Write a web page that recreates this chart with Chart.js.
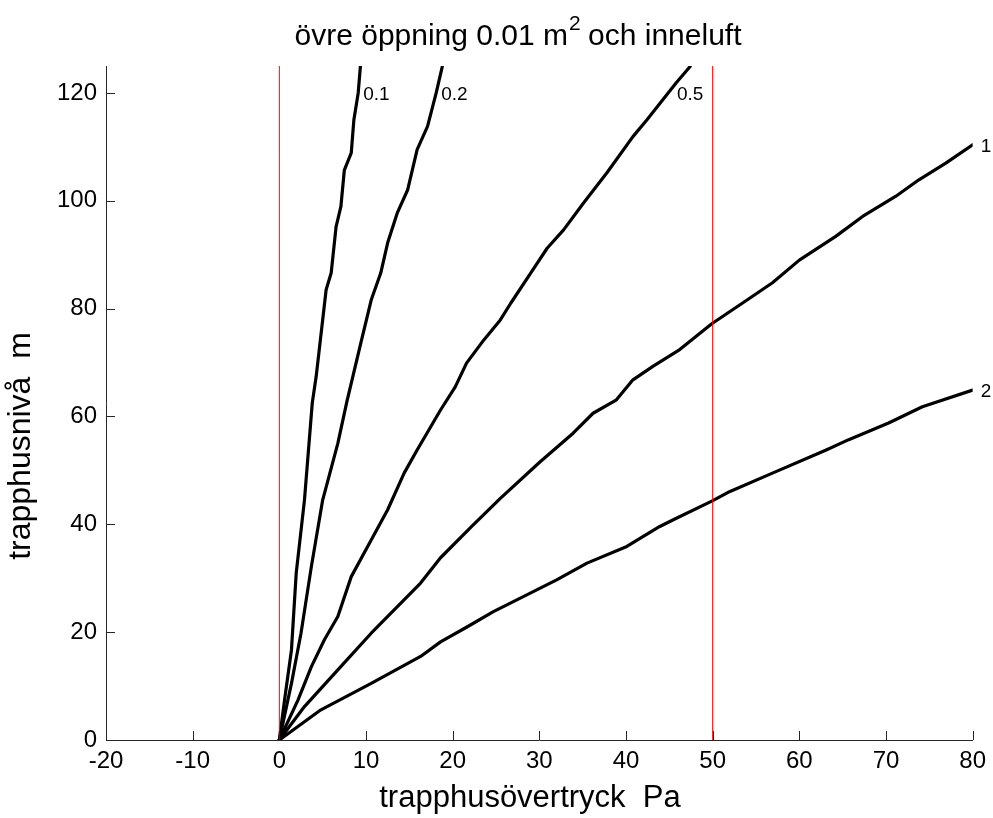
<!DOCTYPE html>
<html lang="sv">
  <head>
    <meta charset="UTF-8" />
    <script src="https://cdn.jsdelivr.net/npm/chart.js@4.4.0/dist/chart.umd.min.js"></script>
    <title>övre öppning 0.01 m2 och inneluft</title>
    <style>
      html, body { margin: 0; padding: 0; background: #fff; }
      #wrap { width: 993px; height: 818px; }
    </style>
  </head>
  <body>
    <div id="wrap"><canvas id="myChart" width="993" height="818"></canvas></div>

    <script>
      // curves: pressure (Pa) vs stairwell level (m), one per opening factor
      const p01 = [0, 0.6, 1.4, 1.95, 2.9, 3.8, 4.25, 5.4, 5.98, 6.55, 7.1, 7.5, 8.3, 8.6, 9.1, 9.35];
      const h01 = [0, 7.4, 16.7, 31, 44.5, 62.5, 67.4, 83.5, 86.6, 95.2, 98.9, 105.7, 108.9, 115, 120, 124.9];

      const p02 = [0, 1.4, 2.5, 3.7, 5.0, 6.75, 7.8, 9.4, 10.6, 11.7, 12.5, 13.6, 14.8, 15.9, 17.1, 18.1, 18.8];
      const h02 = [0, 10.5, 19.8, 32.2, 44.5, 55, 62.8, 73.6, 81.6, 86.6, 92.2, 97.7, 102, 109.5, 113.8, 120, 124.9];

      const p05 = [0, 2.15, 3.7, 5.2, 6.75, 8.3, 10.6, 12.5, 14.4, 15.9, 18.6, 20.3, 21.6, 23.6, 25.5, 26.7, 29.0, 30.9, 32.8, 35.1, 37.8, 40.8, 42.4, 45.8, 47.4];
      const h05 = [0, 7.4, 13.6, 18.6, 22.9, 30.3, 37.1, 42.7, 49.5, 53.8, 61.2, 65.5, 69.9, 74.2, 77.9, 81.0, 86.6, 91.2, 94.6, 99.6, 105.2, 111.9, 115, 121.9, 124.9];

      const p1 = [0, 2.9, 6.75, 10.6, 16.3, 18.6, 22.2, 25.5, 30.1, 33.9, 36.2, 38.9, 40.8, 43.1, 46.2, 49.9, 53.5, 56.9, 60, 64.2, 67.3, 71.1, 73.8, 76.9, 80];
      const h1 = [0, 6.2, 13, 19.8, 29.1, 33.8, 39.6, 44.8, 51.6, 56.9, 60.6, 63.1, 66.8, 69.3, 72.4, 77.2, 81.1, 84.8, 89, 93.4, 97.1, 100.8, 103.9, 107, 110.4];

      const p2 = [0, 4.8, 10.6, 16.3, 18.6, 21.7, 24.7, 32.0, 35.5, 40.1, 43.9, 45.4, 49.9, 52.0, 56.9, 63.1, 65.7, 70.3, 74.2, 80];
      const h2 = [0, 5.6, 10.5, 15.5, 18.2, 21.0, 23.8, 29.7, 32.8, 35.9, 39.6, 40.8, 44.3, 46.1, 49.5, 53.8, 55.7, 58.8, 61.8, 64.9];

      const curveLabels = ["0.1", "0.2", "0.5", "1", "2"];
      const labelP = [9.1, 18.1, 45.3, 80, 80];
      const labelH = [120, 120, 120, 110.4, 64.9];

      // red reference lines (Pa)
      const refP = [0, 50];
      const hRange = [0, 125];

      const xTicks = [-20, -10, 0, 10, 20, 30, 40, 50, 60, 70, 80];
      const yTicks = [0, 20, 40, 60, 80, 100, 120];

      const titleParts = ["övre öppning 0.01 m", "2", " och inneluft"];
      const xTitle = "trapphusövertryck  Pa";
      const yTitle = "trapphusnivå  m";

      const FONT = "'Liberation Sans', Arial, Helvetica, sans-serif";

      function pts(px, hy) {
        return px.map((v, i) => ({ x: v, y: hy[i] }));
      }

      const curves = [[p01, h01], [p02, h02], [p05, h05], [p1, h1], [p2, h2]];
      const datasets = refP.map(v => ({
        data: hRange.map(h => ({ x: v, y: h })),
        borderColor: "#ff0000",
        borderWidth: 1,
        pointRadius: 0
      }));
      curves.forEach(c => {
        datasets.push({
          data: pts(c[0], c[1]),
          borderColor: "#000",
          borderWidth: 3.2,
          pointRadius: 0,
          borderCapStyle: "round",
          borderJoinStyle: "round"
        });
      });

      const decorations = {
        id: "decorations",
        afterDraw(chart) {
          const ctx = chart.ctx;
          const xs = chart.scales.x, ys = chart.scales.y;
          const a = chart.chartArea;
          ctx.save();
          // inward ticks, matlab style
          ctx.strokeStyle = "#262626";
          ctx.lineWidth = 1;
          ctx.beginPath();
          xTicks.forEach(t => {
            const px = Math.round(xs.getPixelForValue(t)) + 0.5;
            ctx.moveTo(px, a.bottom);
            ctx.lineTo(px, a.bottom - 9);
          });
          yTicks.forEach(t => {
            const py = Math.round(ys.getPixelForValue(t)) + 0.5;
            ctx.moveTo(a.left, py);
            ctx.lineTo(a.left + 9, py);
          });
          ctx.stroke();

          // curve labels
          ctx.fillStyle = "#000";
          ctx.font = "19px " + FONT;
          ctx.textBaseline = "middle";
          ctx.textAlign = "left";
          curveLabels.forEach((txt, i) => {
            const px = xs.getPixelForValue(labelP[i]);
            const py = ys.getPixelForValue(labelH[i]);
            const dx = i >= 3 ? 8 : 5;
            ctx.fillText(txt, px + dx, py + 2);
          });

          // axis titles
          ctx.textBaseline = "alphabetic";
          ctx.textAlign = "center";
          ctx.font = "31px " + FONT;
          ctx.fillText(xTitle, 530, 807);
          ctx.save();
          ctx.translate(30, 446);
          ctx.rotate(-Math.PI / 2);
          ctx.font = "32px " + FONT;
          ctx.fillText(yTitle, 0, 0);
          ctx.restore();

          // title with superscript
          ctx.textAlign = "left";
          const big = "30px " + FONT, small = "21px " + FONT;
          ctx.font = big;
          const w1 = ctx.measureText(titleParts[0]).width, w3 = ctx.measureText(titleParts[2]).width;
          ctx.font = small;
          const w2 = ctx.measureText(titleParts[1]).width;
          const total = w1 + w2 + w3;
          let x = 518 - total / 2;
          const base = 45;
          ctx.font = big;
          ctx.fillText(titleParts[0], x, base);
          x += w1;
          ctx.font = small;
          ctx.fillText(titleParts[1], x + 1, base - 15);
          x += w2;
          ctx.font = big;
          ctx.fillText(titleParts[2], x, base);
          ctx.restore();
        }
      };

      const ctx = document.getElementById("myChart").getContext("2d");
      const myChart = new Chart(ctx, {
        type: "line",
        data: { datasets },
        options: {
          responsive: false,
          animation: false,
          layout: { padding: { top: 66, right: 19, left: 0, bottom: 0 } },
          plugins: {
            legend: { display: false },
            tooltip: { enabled: false }
          },
          scales: {
            x: {
              type: "linear",
              min: -20,
              max: 80,
              grid: { drawOnChartArea: false, drawTicks: false },
              border: { display: true, color: "#262626", width: 1 },
              ticks: {
                stepSize: 10,
                includeBounds: false,
                padding: 7,
                color: "#000",
                font: { family: FONT, size: 24 }
              },
              afterFit(scale) { scale.height = 78; }
            },
            y: {
              type: "linear",
              min: 0,
              max: 125,
              grid: { drawOnChartArea: false, drawTicks: false },
              border: { display: true, color: "#262626", width: 1 },
              ticks: {
                stepSize: 20,
                includeBounds: false,
                padding: 9,
                color: "#000",
                font: { family: FONT, size: 24 }
              },
              afterFit(scale) { scale.width = 106; }
            }
          }
        },
        plugins: [decorations]
      });
    </script>
  </body>
</html>
